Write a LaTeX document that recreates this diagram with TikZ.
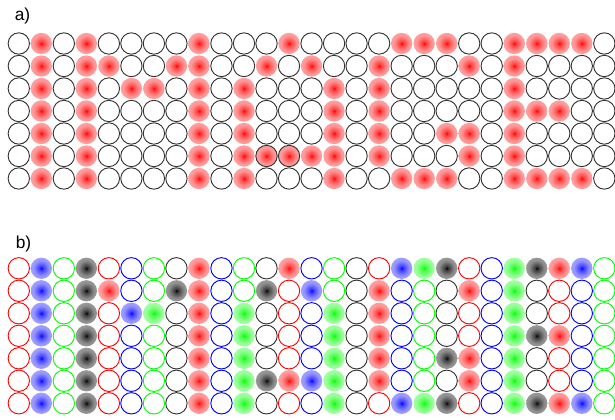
\documentclass[tikz,border=0pt]{standalone}
\usepackage{fontspec}
\setmainfont{Liberation Sans}
% glowing sites: saturated centre fading to a pale rim
\pgfdeclareradialshading{glowred}{\pgfpointorigin}{color(0bp)=(red); color(5bp)=(red!75!white); color(18bp)=(red!42!white); color(50bp)=(red!22!white)}
\pgfdeclareradialshading{glowblue}{\pgfpointorigin}{color(0bp)=(blue); color(5bp)=(blue!75!white); color(18bp)=(blue!42!white); color(50bp)=(blue!22!white)}
\pgfdeclareradialshading{glowgreen}{\pgfpointorigin}{color(0bp)=(green); color(5bp)=(green!75!white); color(18bp)=(green!42!white); color(50bp)=(green!22!white)}
\pgfdeclareradialshading{glowgray}{\pgfpointorigin}{color(0bp)=(black); color(5bp)=(black!75!white); color(18bp)=(black!45!white); color(50bp)=(black!22!white)}
\tikzset{
  lattice/.style={x=0.75pt, y=-0.75pt},
  site/.style={                    % one lattice site
    circle, inner sep=0pt, outer sep=0pt,
    minimum size=16pt, line width=0.7pt
  },
  panel/.style={font=\fontsize{13}{15}\selectfont, anchor=base west, inner sep=0pt},
  % panel a): empty, lit, lit and ringed
  acell0/.style={site, draw=black!80},
  acell1/.style={site, shading=glowred},
  acell2/.style={site, shading=glowred, draw=black!80},
  % panel b): column colours repeat red, blue, green, black
  bring0/.style={site, draw=red},
  bring1/.style={site, draw=blue},
  bring2/.style={site, draw=green},
  bring3/.style={site, draw=black!80},
  bglow0/.style={site, shading=glowred},
  bglow1/.style={site, shading=glowblue},
  bglow2/.style={site, shading=glowgreen},
  bglow3/.style={site, shading=glowgray}
}
\newcommand\latticerows{%
  {0,1,0,1,0,0,0,0,1,0,0,0,1,0,0,0,0,1,1,1,0,0,1,1,1,1,0},
  {0,1,0,1,1,0,0,1,1,0,0,1,0,1,0,0,1,0,0,0,1,0,1,0,0,0,0},
  {0,1,0,1,0,1,1,0,1,0,1,0,0,0,1,0,1,0,0,0,0,0,1,0,0,0,0},
  {0,1,0,1,0,0,0,0,1,0,1,0,0,0,1,0,1,0,0,0,0,0,1,1,1,0,0},
  {0,1,0,1,0,0,0,0,1,0,1,0,0,0,1,0,1,0,0,1,1,0,1,0,0,0,0},
  {0,1,0,1,0,0,0,0,1,0,1,2,2,1,1,0,1,0,0,0,1,0,1,0,0,0,0},
  {0,1,0,1,0,0,0,0,1,0,1,0,0,0,1,0,0,1,1,1,0,0,1,1,1,1,0}}
\begin{document}
\begin{tikzpicture}[lattice]
\useasboundingbox (0,0) rectangle (615,420);
\clip (0,0) rectangle (615,420);

% Panel labels
\node[panel] (labela) at (14.5,21) {a)};
\node[panel] (labelb) at (15.5,249) {b)};

% Panel a): single-colour lattice
\foreach \row [count=\j from 0] in \latticerows {
  \foreach \v [count=\i from 0] in \row {
    \node[acell\v] (a-\i-\j) at (18.8+22.52*\i, 43.5+22.5*\j) {};
  }
}

% Panel b): four-colour lattice, same lit sites
\foreach \row [count=\j from 0] in \latticerows {
  \foreach \v [count=\i from 0] in \row {
    \pgfmathtruncatemacro\k{mod(\i,4)}
    \ifnum\v=0
      \node[bring\k] (b-\i-\j) at (18.8+22.52*\i, 268.3+22.5*\j) {};
    \else
      \node[bglow\k] (b-\i-\j) at (18.8+22.52*\i, 268.3+22.5*\j) {};
    \fi
  }
}
\end{tikzpicture}
\end{document}
